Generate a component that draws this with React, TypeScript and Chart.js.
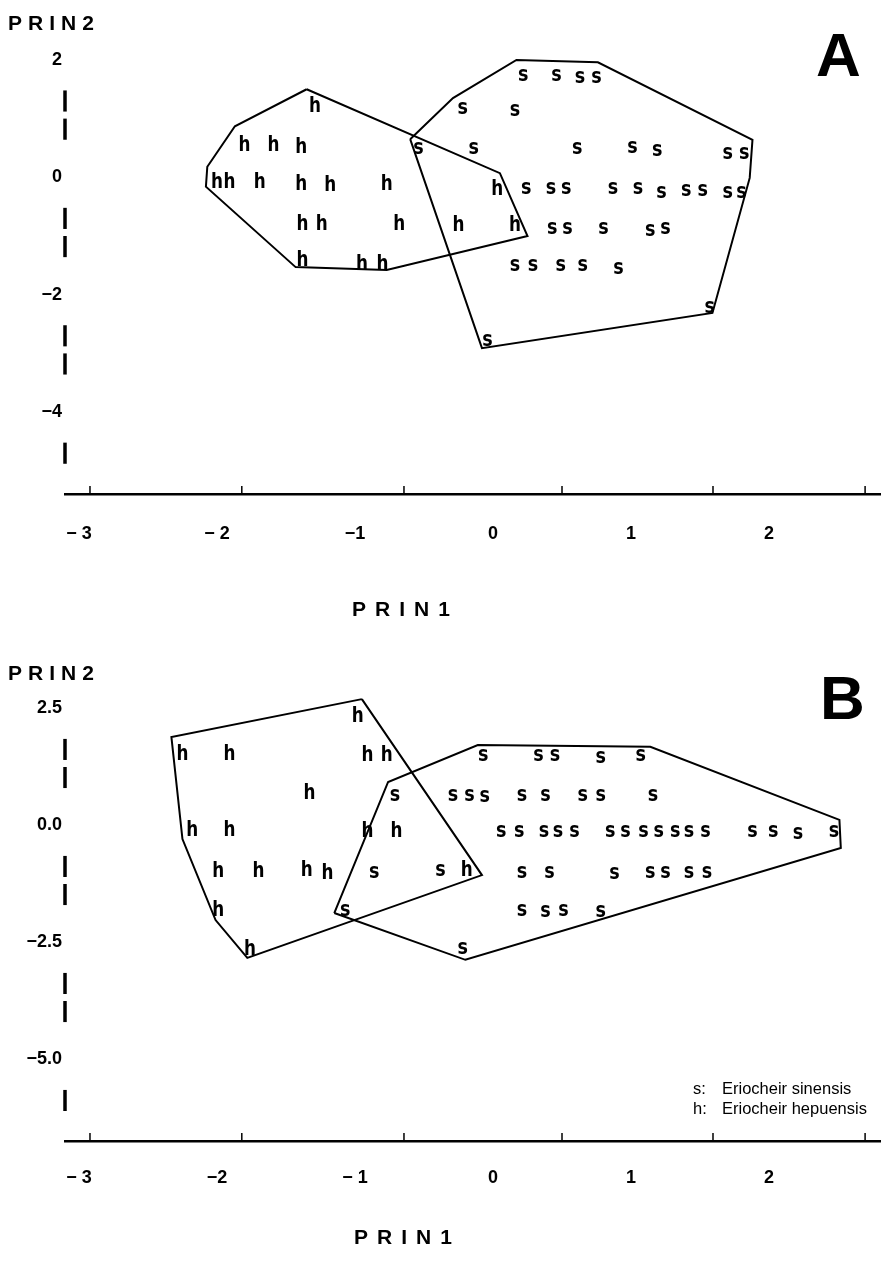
import React, { useEffect, useRef } from 'react';
import { Chart, registerables } from 'chart.js';

Chart.register(...registerables);

// ---------- Panel A data (PRIN1, PRIN2) ----------
const A_H: [number, number][] = [
  [-1.29, 1.25],
  [-1.80, 0.58], [-1.59, 0.58], [-1.39, 0.55],
  [-2.00, -0.05], [-1.91, -0.05], [-1.69, -0.05], [-1.39, -0.08], [-1.18, -0.10], [-0.77, -0.08],
  [0.03, -0.17],
  [-1.38, -0.76], [-1.24, -0.76], [-0.68, -0.76], [-0.25, -0.78], [0.16, -0.78],
  [-1.38, -1.37], [-0.95, -1.44], [-0.80, -1.44],
];
const A_S: [number, number][] = [
  [0.22, 1.74], [0.46, 1.74], [0.63, 1.71], [0.75, 1.71],
  [-0.22, 1.18], [0.16, 1.15],
  [-0.54, 0.50], [-0.14, 0.50], [0.61, 0.50], [1.01, 0.52], [1.19, 0.47], [1.70, 0.41], [1.82, 0.41],
  [0.24, -0.18], [0.42, -0.18], [0.53, -0.18], [0.87, -0.18], [1.05, -0.18], [1.22, -0.25],
  [1.40, -0.22], [1.52, -0.22], [1.70, -0.25], [1.80, -0.25],
  [0.43, -0.86], [0.54, -0.86], [0.80, -0.86], [1.14, -0.90], [1.25, -0.86],
  [0.16, -1.49], [0.29, -1.49], [0.49, -1.49], [0.65, -1.49], [0.91, -1.54],
  [1.57, -2.21], [-0.04, -2.77],
];
const A_HULL_H: [number, number][] = [
  [-1.35, 1.50], [-1.87, 0.87], [-2.07, 0.18], [-2.08, -0.16],
  [-1.43, -1.53], [-0.77, -1.58], [0.25, -1.00], [0.05, 0.07],
];
const A_HULL_S: [number, number][] = [
  [-0.60, 0.65], [-0.29, 1.35], [0.17, 2.00], [0.76, 1.96],
  [1.88, 0.64], [1.86, -0.01], [1.59, -2.31], [-0.08, -2.91],
];

// ---------- Panel B data ----------
const B_H: [number, number][] = [
  [-0.98, 2.38],
  [-2.25, 1.57], [-1.91, 1.57], [-0.91, 1.55], [-0.77, 1.55],
  [-1.33, 0.74],
  [-2.18, -0.05], [-1.91, -0.05], [-0.91, -0.07], [-0.70, -0.07],
  [-1.99, -0.93], [-1.70, -0.93], [-1.35, -0.90], [-1.20, -0.97], [-0.19, -0.90],
  [-1.99, -1.76],
  [-1.76, -2.60],
];
const B_S: [number, number][] = [
  [-0.07, 1.51], [0.33, 1.51], [0.45, 1.51], [0.78, 1.47], [1.07, 1.51],
  [-0.71, 0.65], [-0.29, 0.65], [-0.17, 0.65], [-0.06, 0.62], [0.21, 0.65], [0.38, 0.65],
  [0.65, 0.65], [0.78, 0.65], [1.16, 0.65],
  [0.06, -0.12], [0.19, -0.12], [0.37, -0.12], [0.47, -0.12], [0.59, -0.12], [0.85, -0.12],
  [0.96, -0.12], [1.09, -0.12], [1.20, -0.12], [1.32, -0.12], [1.42, -0.12], [1.54, -0.12],
  [1.88, -0.12], [2.03, -0.12], [2.21, -0.15], [2.47, -0.12],
  [-0.86, -0.99], [-0.38, -0.96], [0.21, -0.99], [0.41, -0.99], [0.88, -1.01], [1.14, -0.99],
  [1.25, -0.99], [1.42, -0.99], [1.55, -0.99],
  [-1.07, -1.81], [0.21, -1.81], [0.38, -1.83], [0.51, -1.81], [0.78, -1.83],
  [-0.22, -2.62],
];
const B_HULL_H: [number, number][] = [
  [-0.95, 2.70], [-2.33, 1.89], [-2.25, -0.29], [-2.01, -2.02], [-1.78, -2.83], [-0.08, -1.06],
];
const B_HULL_S: [number, number][] = [
  [-1.15, -1.87], [-0.76, 0.93], [-0.11, 1.72], [1.14, 1.68],
  [2.51, 0.12], [2.52, -0.48], [-0.20, -2.87],
];

// ---------- Axis ticks ----------
const X_TICKS = [-3, -2, -1, 0, 1, 2];
const X_TICK_LABELS_A = ['\u2212 3', '\u2212 2', '\u22121', '0', '1', '2'];
const X_TICK_LABELS_B = ['\u2212 3', '\u22122', '\u2212 1', '0', '1', '2'];
const X_TICK_MARKS = [-2.92, -1.82, -0.645, 0.50, 1.594, 2.696];
const Y_TICKS_A = [2, 0, -2, -4];
const Y_TICK_LABELS_A = ['2', '0', '\u22122', '\u22124'];
const Y_TICKS_B = [2.5, 0, -2.5, -5];
const Y_TICK_LABELS_B = ['2.5', '0.0', '\u22122.5', '\u22125.0'];

const SANS = '"Liberation Sans", Arial, Helvetica, sans-serif';

const lettersPlugin = {
  id: 'letters',
  afterDatasetsDraw(chart: any) {
    const ctx = chart.ctx;
    chart.data.datasets.forEach((ds: any, i: number) => {
      if (!ds.letter) return;
      const meta = chart.getDatasetMeta(i);
      ctx.save();
      ctx.fillStyle = '#000';
      ctx.font = ds.letterFont;
      ctx.textAlign = 'center';
      ctx.textBaseline = 'alphabetic';
      meta.data.forEach((el: any) => {
        ctx.save();
        ctx.translate(el.x, el.y);
        ctx.scale(0.8, 1);
        ctx.fillText(ds.letter, 0, ds.letterOffset);
        ctx.restore();
      });
      ctx.restore();
    });
  },
};

const axisPlugin = {
  id: 'axisDecor',
  afterDraw(chart: any, _args: any, opts: any) {
    const ctx = chart.ctx;
    const xs = chart.scales.x;
    const ys = chart.scales.y;
    const area = chart.chartArea;
    ctx.save();
    ctx.strokeStyle = '#000';
    // dashed vertical axis between tick labels
    const px = ys.ticks.map((t: any) => ys.getPixelForValue(t.value)).sort((a: number, b: number) => a - b);
    ctx.lineWidth = 3.5;
    const ax = area.left;
    for (let i = 0; i < px.length; i++) {
      const p = px[i];
      const P = i < px.length - 1 ? px[i + 1] - p : px[i] - px[i - 1];
      const segs = i < px.length - 1 ? [[0.26, 0.44], [0.50, 0.68]] : [[0.26, 0.44]];
      segs.forEach(([a, b]) => {
        const y1 = p + a * P;
        const y2 = p + b * P;
        if (y2 > area.bottom) return;
        ctx.beginPath();
        ctx.moveTo(ax, y1);
        ctx.lineTo(ax, y2);
        ctx.stroke();
      });
    }
    // upward tick marks on the horizontal axis
    ctx.lineWidth = 1.5;
    (opts.marks || []).forEach((v: number) => {
      const x = xs.getPixelForValue(v);
      ctx.beginPath();
      ctx.moveTo(x, area.bottom);
      ctx.lineTo(x, area.bottom - 8);
      ctx.stroke();
    });
    ctx.restore();
  },
};

type PanelCfg = {
  top: number;
  padTop: number;
  xh: number;
  xPad: number;
  yMin: number;
  yMax: number;
  h: [number, number][];
  s: [number, number][];
  hullH: [number, number][];
  hullS: [number, number][];
  xLabels: string[];
  yTicks: number[];
  yLabels: string[];
};

const toXY = (p: [number, number]) => ({ x: p[0], y: p[1] });
const closed = (pts: [number, number][]) => [...pts, pts[0]].map(toXY);

function Panel({ cfg }: { cfg: PanelCfg }) {
  const ref = useRef<HTMLCanvasElement>(null);
  useEffect(() => {
    const hullStyle = {
      showLine: true,
      borderColor: '#000',
      borderWidth: 2,
      pointRadius: 0,
      pointHoverRadius: 0,
      fill: false,
      tension: 0,
    };
    const chart = new Chart(ref.current as HTMLCanvasElement, {
      type: 'scatter',
      data: {
        datasets: [
          { label: 'hull h', data: closed(cfg.hullH), ...hullStyle } as any,
          { label: 'hull s', data: closed(cfg.hullS), ...hullStyle } as any,
          {
            label: 'Eriocheir hepuensis',
            data: cfg.h.map(toXY),
            pointRadius: 0,
            letter: 'h',
            letterFont: `bold 21px "DejaVu Sans", sans-serif`,
            letterOffset: 8,
          } as any,
          {
            label: 'Eriocheir sinensis',
            data: cfg.s.map(toXY),
            pointRadius: 0,
            letter: 's',
            letterFont: `bold 22px "DejaVu Sans", sans-serif`,
            letterOffset: 6,
          } as any,
        ],
      },
      options: {
        animation: false,
        responsive: true,
        maintainAspectRatio: false,
        layout: { padding: { top: cfg.padTop, left: 25, right: 7, bottom: 0 } },
        plugins: {
          legend: { display: false },
          tooltip: { enabled: false },
          axisDecor: { marks: X_TICK_MARKS },
        } as any,
        scales: {
          x: {
            type: 'linear',
            min: -3.101,
            max: 2.804,
            grid: { display: false, drawTicks: false },
            border: { display: true, color: '#000', width: 2.5 },
            ticks: {
              autoSkip: false,
              maxRotation: 0,
              padding: cfg.xPad,
              color: '#000',
              font: { family: SANS, size: 18, weight: 'bold' },
              callback: (v: any) => {
                const i = X_TICKS.indexOf(Number(v));
                return i >= 0 ? cfg.xLabels[i] : '';
              },
            },
            afterBuildTicks: (s: any) => {
              s.ticks = X_TICKS.map((v) => ({ value: v }));
            },
            afterFit: (s: any) => {
              s.height = cfg.xh;
            },
          },
          y: {
            type: 'linear',
            min: cfg.yMin,
            max: cfg.yMax,
            grid: { display: false, drawTicks: false },
            border: { display: false },
            ticks: {
              autoSkip: false,
              padding: 3,
              color: '#000',
              font: { family: SANS, size: 18, weight: 'bold' },
              callback: (v: any) => {
                const i = cfg.yTicks.indexOf(Number(v));
                return i >= 0 ? cfg.yLabels[i] : '';
              },
            },
            afterBuildTicks: (s: any) => {
              s.ticks = [...cfg.yTicks].sort((a, b) => a - b).map((v) => ({ value: v }));
            },
            afterFit: (s: any) => {
              s.width = 40;
            },
          },
        } as any,
      },
      plugins: [lettersPlugin, axisPlugin],
    });
    return () => chart.destroy();
  }, [cfg]);
  return (
    <div style={{ position: 'absolute', left: 0, top: cfg.top, width: 887, height: 632 }}>
      <canvas ref={ref} />
    </div>
  );
}

const PANEL_A: PanelCfg = {
  top: 0,
  padTop: 45,
  xh: 138,
  xPad: 29,
  yMin: -5.395,
  yMax: 2.254,
  h: A_H,
  s: A_S,
  hullH: A_HULL_H,
  hullS: A_HULL_S,
  xLabels: X_TICK_LABELS_A,
  yTicks: Y_TICKS_A,
  yLabels: Y_TICK_LABELS_A,
};

const PANEL_B: PanelCfg = {
  top: 632,
  padTop: 58,
  xh: 123,
  xPad: 26,
  yMin: -6.741,
  yMax: 2.895,
  h: B_H,
  s: B_S,
  hullH: B_HULL_H,
  hullS: B_HULL_S,
  xLabels: X_TICK_LABELS_B,
  yTicks: Y_TICKS_B,
  yLabels: Y_TICK_LABELS_B,
};

const txt = (left: number, cy: number, size: number, extra: React.CSSProperties = {}): React.CSSProperties => ({
  position: 'absolute',
  left,
  top: cy,
  transform: 'translateY(-50%)',
  fontFamily: SANS,
  fontSize: size,
  lineHeight: `${size}px`,
  fontWeight: 'bold',
  color: '#000',
  whiteSpace: 'nowrap',
  ...extra,
});

export default function App() {
  return (
    <div style={{ position: 'absolute', left: 0, top: 0, width: 887, height: 1264, background: '#fff', overflow: 'hidden' }}>
      <Panel cfg={PANEL_A} />
      <Panel cfg={PANEL_B} />
      <div style={txt(8, 22, 21, { letterSpacing: 6 })}>PRIN2</div>
      <div style={txt(8, 672, 21, { letterSpacing: 6 })}>PRIN2</div>
      <div style={txt(352, 608, 21, { letterSpacing: 9 })}>PRIN1</div>
      <div style={txt(354, 1236, 21, { letterSpacing: 9 })}>PRIN1</div>
      <div style={txt(816, 55, 62, { fontWeight: 900 })}>A</div>
      <div style={txt(820, 698, 62, { fontWeight: 900 })}>B</div>
      <div style={txt(693, 1088, 16.5, { fontWeight: 'normal' })}>
        <span style={{ display: 'inline-block', width: 29 }}>s:</span>Eriocheir sinensis
      </div>
      <div style={txt(693, 1108, 16.5, { fontWeight: 'normal' })}>
        <span style={{ display: 'inline-block', width: 29 }}>h:</span>Eriocheir hepuensis
      </div>
    </div>
  );
}
